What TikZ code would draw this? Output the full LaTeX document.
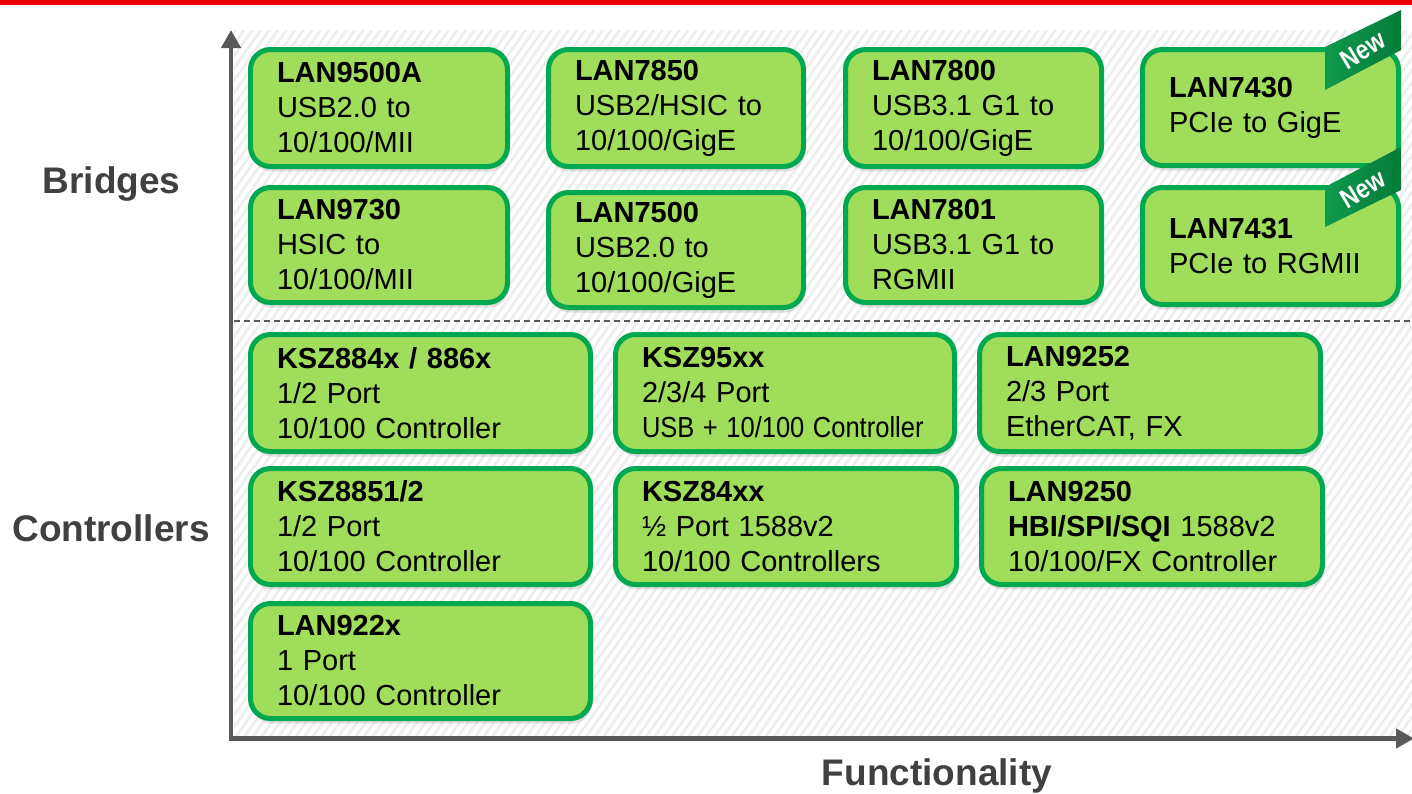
\documentclass[tikz,border=0pt]{standalone}
\usepackage{fontspec}
\setmainfont{Liberation Sans}
\usepackage{graphicx}
\usetikzlibrary{arrows.meta,shadows,patterns.meta}
\definecolor{chipfill}{HTML}{9FDD5A}
\definecolor{chipedge}{HTML}{00A84F}
\definecolor{axisgray}{HTML}{595959}
\definecolor{labelgray}{HTML}{404040}
\definecolor{ribbongreen}{HTML}{0E9A4C}
\definecolor{ribbondark}{HTML}{067A3A}
\definecolor{topred}{HTML}{E8000B}
\definecolor{hatchgray}{HTML}{EDEDED}
\tikzset{
  chip/.style={draw=chipedge, fill=chipfill, line width=5pt, rounded corners=20pt,
    align=left, inner xsep=26.5pt, inner ysep=0pt,
    font=\fontsize{29}{35}\selectfont, text=black,
    drop shadow={opacity=0.22, shadow xshift=1.5pt, shadow yshift=-5pt}},
  axisline/.style={draw=axisgray, line width=4.5pt, -{Triangle[length=18pt,width=19pt]}},
  sidelabel/.style={anchor=base, text=labelgray, font=\bfseries\fontsize{37}{37}\selectfont, inner sep=0pt},
  ribbon/.style={left color=ribbongreen, right color=ribbondark},
  newtag/.style={text=white, font=\bfseries\fontsize{27}{27}\selectfont, rotate=31, inner sep=0pt},
  divider/.style={draw=axisgray, line width=1.5pt, dash pattern=on 6pt off 4pt}
}
\newcommand\chipnode[6]{%
  \pgfmathsetmacro\chipW{#4-#2-5}%
  \pgfmathsetmacro\chipH{#5-#3-5}%
  \pgfmathsetmacro\chipT{#4-#2-5-53}%
  \node[chip, minimum width=\chipW pt, minimum height=\chipH pt, text width=\chipT pt]
    (#1) at ({(#2+#4)/2},{(#3+#5)/2}) {#6};}
\begin{document}
\begin{tikzpicture}[x=1pt,y=-1pt]
\useasboundingbox (0,0) rectangle (1412,793);
% top red bar
\fill[topred] (0,0) rectangle (1412,4.5);
% hatched background
\fill[white] (234,30) rectangle (1412,738);
\fill[pattern={Lines[angle=55,distance=7pt,line width=2.5pt]}, pattern color=hatchgray] (234,30) rectangle (1412,738);
% divider
\coordinate (divL) at (234,321);
\coordinate (divR) at (1412,321);
\draw[divider] (divL) -- (divR);
% axes
\coordinate (origin) at (231,738.5);
\coordinate (ytip) at (231,30);
\coordinate (xtip) at (1414,738.5);
\coordinate (corner) at (229,738.5);
\draw[axisline] (origin) -- (ytip);
\draw[axisline] (corner) -- (xtip);
% labels
\node[sidelabel] (bridges) at (111.5,193) {Bridges};
\node[sidelabel] (controllers) at (111,541) {Controllers};
\node[sidelabel] (functionality) at (937,785) {Functionality};
% bridges
\chipnode{lan9500a}{248}{47}{510}{169}{\textbf{LAN9500A}\\USB2.0 to\\10/100/MII}
\chipnode{lan7850}{546}{47}{806}{169}{\textbf{LAN7850}\\USB2/HSIC to\\10/100/GigE}
\chipnode{lan7800}{843}{47}{1104}{169}{\textbf{LAN7800}\\USB3.1 G1 to\\10/100/GigE}
\chipnode{lan7430}{1140}{47}{1401}{168}{\textbf{LAN7430}\\PCIe to GigE}
\chipnode{lan9730}{248}{185}{510}{305}{\textbf{LAN9730}\\HSIC to\\10/100/MII}
\chipnode{lan7500}{546}{190}{806}{310}{\textbf{LAN7500}\\USB2.0 to\\10/100/GigE}
\chipnode{lan7801}{843}{185}{1104}{305}{\textbf{LAN7801}\\USB3.1 G1 to\\RGMII}
\chipnode{lan7431}{1140}{185}{1401}{307}{\textbf{LAN7431}\\PCIe to RGMII}
% New ribbons
\shade[ribbon] (1325,47) -- (1401,10) -- (1401,50) -- (1325,90) -- cycle;
\node[newtag] (new1) at (1363,50) {\scalebox{0.85}[1]{New}};
\shade[ribbon] (1325,187) -- (1401,147) -- (1401,190) -- (1325,227) -- cycle;
\node[newtag] (new2) at (1363,189) {\scalebox{0.85}[1]{New}};
% controllers
\chipnode{ksz884x}{248}{332}{593}{454}{\textbf{KSZ884x / 886x}\\1/2 Port\\10/100 Controller}
\chipnode{ksz95xx}{613}{332}{957}{454}{\textbf{KSZ95xx}\\2/3/4 Port\\\scalebox{0.88}[1]{USB + 10/100 Controller}}
\chipnode{lan9252}{977}{332}{1323}{454}{\textbf{LAN9252}\\2/3 Port\\EtherCAT, FX}
\chipnode{ksz8851}{248}{466}{593}{587}{\textbf{KSZ8851/2}\\1/2 Port\\10/100 Controller}
\chipnode{ksz84xx}{613}{466}{959}{587}{\textbf{KSZ84xx}\\½ Port 1588v2\\10/100 Controllers}
\chipnode{lan9250}{979}{466}{1325}{587}{\textbf{LAN9250}\\\textbf{HBI/SPI/SQI} 1588v2\\10/100/FX Controller}
\chipnode{lan922x}{248}{601}{593}{721}{\textbf{LAN922x}\\1 Port\\10/100 Controller}
\end{tikzpicture}
\end{document}
